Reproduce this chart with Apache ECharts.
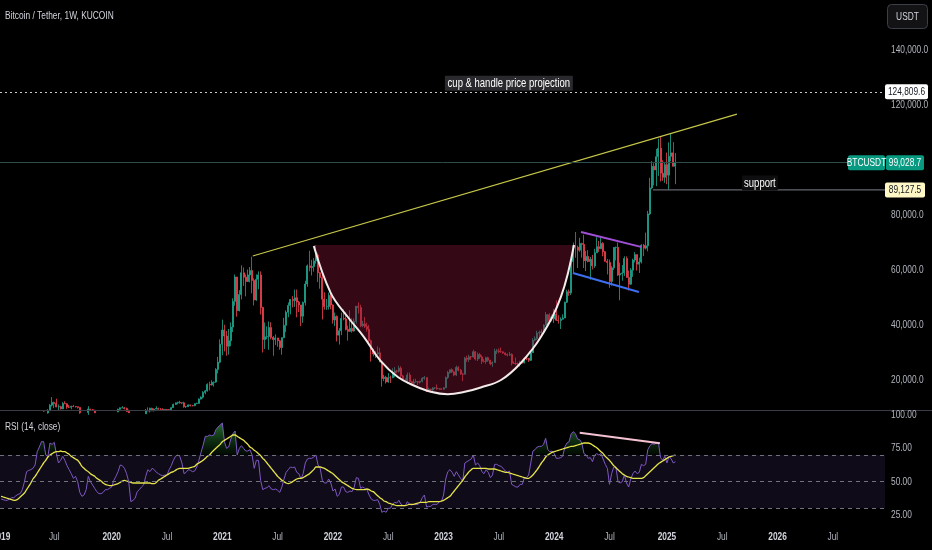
<!DOCTYPE html>
<html><head><meta charset="utf-8">
<script src="https://cdn.jsdelivr.net/npm/echarts@6/dist/echarts.min.js"></script>
<style>html,body{margin:0;padding:0;background:#000;}#c{width:932px;height:550px;}</style>
</head><body><div id="c"></div>
<script>
// ---------- data (prices in thousands of USDT) ----------
const startDate = '2019-01-07';
const weekCount = 416;
const firstOpen = 4.05;
const closes = [
3.55,3.53,3.55,3.43,3.65,3.65,3.83,3.86,3.93,3.99,4.02,4.10,
5.05,5.05,5.30,5.28,5.85,7.25,8.00,8.75,8.70,8.00,8.95,10.85,
11.85,11.45,10.20,10.30,9.50,11.50,11.35,10.20,10.10,10.40,10.35,10.30,
10.00,8.05,7.85,8.30,8.20,9.45,9.20,9.00,8.05,7.20,7.40,7.50,
7.10,7.30,7.35,7.75,
8.20,8.70,8.40,9.35,9.90,9.90,9.65,8.55,8.05,5.35,5.85,5.90,
6.80,6.65,7.15,7.70,8.90,8.70,9.70,8.75,9.45,9.65,9.35,9.30,
9.00,9.30,9.25,9.15,9.95,11.10,11.70,11.90,11.65,11.70,10.30,10.30,
10.95,10.75,10.65,11.40,11.50,13.05,13.75,15.45,16.05,18.40,18.20,19.15,
19.25,23.80,26.50,33.00,
38.15,36.00,32.25,34.30,39.25,48.60,57.45,45.20,51.05,59.00,57.40,55.80,
58.20,59.80,56.20,49.10,56.60,58.20,46.40,34.70,35.70,35.80,39.10,35.50,
34.70,35.30,34.25,31.80,35.40,39.90,44.60,47.10,49.30,48.90,49.90,48.30,
47.30,43.20,48.20,54.90,61.50,60.90,61.30,63.30,65.50,59.00,57.30,49.40,
46.70,46.70,50.80,47.30,
41.85,43.10,36.30,37.90,42.40,42.20,38.40,37.70,38.80,37.80,41.30,46.85,
46.40,39.70,40.40,39.45,38.50,34.30,31.30,29.45,29.45,29.90,26.60,20.55,
21.00,19.30,20.85,20.80,22.60,23.30,23.20,24.30,21.50,20.05,19.80,21.80,
19.40,18.80,19.30,19.40,19.20,19.55,20.60,20.90,16.30,16.70,16.40,17.10,
17.10,16.80,16.85,16.60,
17.15,20.90,22.70,23.75,22.95,21.80,24.60,23.55,22.20,22.10,27.95,27.50,
28.45,28.35,30.30,27.60,29.25,28.40,26.80,26.75,28.10,27.20,25.90,26.35,
30.50,30.60,30.30,30.25,29.85,29.25,29.05,29.30,26.10,26.00,25.85,25.85,
26.50,26.25,27.95,27.90,27.15,29.95,34.50,35.00,37.05,37.35,37.45,39.95,
43.75,41.40,43.00,42.25,
43.95,41.75,41.60,42.10,42.55,48.30,52.10,51.70,63.10,68.90,68.30,67.20,
69.65,69.30,63.40,64.95,63.10,63.90,61.50,66.25,68.50,67.75,69.65,66.65,
63.20,62.70,55.85,60.80,68.20,68.25,58.15,58.70,58.95,64.20,57.30,54.85,
59.95,63.60,65.60,62.10,62.90,69.00,67.95,68.80,80.40,89.85,97.70,96.40,
101.20,104.30,95.20,93.70,98.30,94.50,101.35,102.60,97.70,99.03];
const highs = [
4.10,3.75,3.65,3.60,3.70,3.70,4.20,3.95,3.95,4.05,4.10,4.15,
5.35,5.45,5.45,5.65,5.90,7.50,8.35,8.90,9.10,8.80,9.40,11.25,
13.80,12.10,13.20,11.10,10.65,11.95,12.30,11.55,10.95,10.65,10.95,10.45,
10.30,10.00,8.50,8.80,8.40,10.50,9.50,9.50,9.15,8.20,7.90,7.80,
7.55,7.50,7.60,7.90,
8.45,9.00,8.80,9.60,10.00,10.50,10.25,9.95,9.20,8.10,6.95,6.95,
7.25,7.45,7.30,7.80,9.45,10.05,9.95,9.95,9.60,10.45,9.95,9.80,
9.75,9.35,9.45,9.35,10.10,11.45,11.80,12.10,12.45,11.75,12.10,10.60,
11.15,11.05,10.95,11.50,11.75,13.35,14.05,15.95,16.35,18.80,19.40,19.90,
19.40,24.30,28.40,34.80,
41.95,40.10,37.80,38.55,40.95,49.70,58.35,57.50,52.65,61.70,60.90,58.40,
60.20,61.10,64.85,57.00,58.40,59.50,59.50,46.60,40.90,39.50,41.30,41.00,
36.00,36.60,35.10,34.60,35.50,42.60,45.30,48.20,49.40,50.50,52.90,52.90,
48.80,47.30,48.50,56.10,62.00,67.00,63.70,64.30,69.00,66.30,59.30,59.20,
51.90,49.50,51.80,52.00,
47.50,44.50,43.50,38.90,44.50,45.80,44.75,39.80,45.40,42.50,42.40,46.90,
48.20,47.40,41.50,42.90,40.80,40.00,34.70,31.00,30.60,32.20,31.70,26.90,
21.90,21.55,22.50,21.60,24.30,24.70,23.70,25.20,25.00,21.90,20.60,22.70,
22.70,19.70,20.40,20.45,19.60,19.70,21.00,21.45,21.00,17.20,16.80,17.40,
17.40,18.40,17.05,16.95,
17.40,21.25,23.30,23.80,24.25,23.40,25.25,25.00,24.00,22.60,28.40,28.85,
29.20,28.75,31.00,30.50,30.00,29.85,29.00,27.65,28.45,28.45,27.30,26.80,
31.40,31.30,31.50,31.80,30.40,30.00,29.70,30.25,29.70,26.80,28.15,26.40,
27.00,27.45,28.00,28.60,28.00,30.20,35.20,35.90,37.95,37.95,38.40,40.25,
44.70,44.00,44.30,43.80,
45.90,48.95,43.55,42.80,43.85,48.50,52.80,52.90,64.00,70.00,73.80,68.90,
71.70,69.90,72.80,66.90,67.20,64.75,65.50,67.70,71.95,70.60,71.95,70.15,
66.95,64.00,63.80,61.40,68.35,68.50,70.00,62.70,61.80,65.00,64.95,59.80,
60.65,64.10,66.50,65.60,64.50,69.40,69.50,73.60,81.50,93.50,99.60,98.80,
104.00,107.80,108.35,99.90,98.90,102.70,106.40,109.60,106.50,102.50];
const lows = [
3.50,3.50,3.45,3.35,3.36,3.55,3.64,3.70,3.70,3.80,3.90,3.90,
4.10,4.95,5.00,5.10,5.25,5.75,6.90,7.50,8.50,7.45,7.80,8.95,
10.35,9.80,10.10,9.10,9.30,9.50,11.25,9.50,9.80,9.35,10.20,9.95,
9.60,7.70,7.70,7.80,7.90,7.30,8.95,8.70,8.00,6.80,6.50,7.30,
6.90,6.45,7.10,6.90,
7.70,8.15,8.25,8.30,9.10,9.75,9.30,8.45,8.00,3.85,4.45,5.70,
5.85,6.55,6.50,6.80,7.65,8.60,8.20,8.70,8.65,9.30,9.25,9.20,
8.95,8.90,9.10,9.00,9.10,9.90,10.95,11.15,11.40,11.25,9.90,9.85,
10.20,10.35,10.40,10.50,11.20,11.40,12.90,13.25,14.80,15.75,16.20,18.00,
17.60,19.00,22.40,26.10,
29.00,30.40,28.80,29.20,32.30,37.40,47.00,43.00,44.95,49.30,54.20,50.40,
55.70,55.50,51.50,47.10,48.80,53.00,43.80,30.00,31.30,34.80,31.00,34.80,
28.80,32.70,32.10,31.00,29.20,35.20,37.40,42.80,43.90,46.40,46.60,42.80,
44.70,39.60,40.80,47.10,53.90,59.50,58.00,59.40,62.30,55.60,53.20,42.00,
45.60,45.50,45.60,45.70,
40.50,39.60,34.00,32.90,36.30,41.70,38.00,34.30,37.50,37.20,37.60,40.50,
44.20,39.20,39.20,38.90,37.60,33.70,26.70,28.60,28.00,29.20,26.50,17.60,
19.60,18.70,19.00,18.90,20.70,21.00,22.40,22.70,20.80,19.80,19.60,18.60,
19.30,18.15,18.50,19.10,18.20,18.70,19.10,20.05,15.60,15.80,15.50,16.00,
16.75,16.50,16.50,16.35,
16.55,17.10,20.40,22.30,22.50,21.40,21.50,23.10,21.90,19.60,22.00,26.60,
26.50,27.30,28.20,27.10,26.90,27.70,25.80,26.35,25.90,26.60,25.35,24.80,
26.25,29.50,29.70,29.95,29.50,28.90,28.60,28.70,25.30,25.80,25.40,25.40,
24.90,26.00,26.00,27.20,26.55,26.90,29.90,34.10,34.55,34.80,35.65,36.85,
39.95,40.20,40.55,41.30,
40.75,41.50,40.50,38.55,41.90,42.55,48.00,50.60,50.90,59.00,64.50,60.70,
66.60,64.50,60.70,59.60,62.80,56.50,60.20,60.75,66.30,66.60,67.60,65.00,
63.00,58.40,53.50,54.30,60.00,63.50,57.80,49.00,56.10,57.80,57.20,52.55,
54.60,57.50,62.70,59.80,58.90,62.40,65.05,67.45,66.80,80.00,89.40,90.80,
90.50,94.20,92.20,92.40,91.70,91.20,89.25,99.50,97.70,91.20];
const rsi = [
37,36.5,36,36,37,38,38,39.5,40.5,41,44,50,
57.5,58.5,59,60,62.5,72.5,76,80,80,70,69,79,
78,79.5,71,64,66,69,66,62,59,56,52.5,54,
50,42,39,40,44,54,50,47.5,45,42.5,41,41,
42,44,44,45,
46,51,54,57.5,62.5,62,60,56,50,35,36,37.5,
42.5,44,46,47.5,54,59,57.5,60,59,57,56,55,
54.5,55,55,59,62,66,69,70,69,64,56,57,
59,58.5,57.5,58,61,66,72,77.5,84,84,85,84.5,
85,89,91,92.5,
94,80,75,76,82,86,88,70,75,77,75,73,
73,74,70,60,66,66,51,44,45,45.5,47,44.5,
44,44.5,43.5,42,46,52,57,59,61,60.5,61,57,
56,52,56,64,67,67.5,67.5,68.5,70,62.5,60,51,
49,49,52,49,
43,44.5,39,40.5,46,46,42.5,42,43,42.5,46,53,
52.5,45,46,45,44,40,37,36,36,36.5,33,27,
28,27,30,30,33,34.5,34,36,33,32,32,35,
33,32.5,33,33,33,34.5,38,40,31,31.5,31.5,33,
33,33,35,35,
40,52,57.5,59,57,54,57.5,55,52.5,50,64,65,
66,67,70,62.5,64,62,57.5,56,59,57,53,55,
63,63,62,61.5,60,58,57,58,48,47,46,46,
48,48,53,53,55,64,73,74,76,76.5,76.5,78,
82.5,74,72.5,73,
71,67.5,67.5,68,69,76,79,80,86,87.5,86,82,
81.5,79,71,70,67.5,68,65,70,71,70,71,67,
63,60,48,56,61,61,50,49,50,55,49,46,
52,56,58,56,57,63,62,63,74,77,78.5,78,
79,79.5,68,66,69,64,69,67,64,65];
const rsiMA = [
39,38.5,38,37.5,37,36.5,36,36.2,37,38.5,40,41.5,
44,46.5,49,52,54,56.5,59,61.5,64,66,68.5,70,
71,72,72.5,72.5,73,72.5,72.5,71.5,70.5,69,68,67,
66,64,61.5,60,58.5,57.5,56,55,54,52.5,51.5,50.5,
49,48,47.5,47,
47,47.5,48,48.5,49.5,50.5,51,50.5,50,49.5,49,49,
49,49,49,49,49,49,49,48.5,48.5,49.5,51,52,
53,54,55,56,57,57.5,58.5,59.5,60,60,60,60,
60,60.5,61,61.5,63,64,65,66,67.5,69,70,72,
73.5,75,76.5,78,
80,81,82,83,84,85,85,84,83,82,81,79.5,
78,76,75,73.5,72.5,71,69.5,67.5,66,64,62,60,
58,56,54,52.5,51,50,49,48.5,49,50,51,52,
52.5,52.5,53,54,55,56,57.5,59,61,61,61,60.5,
60,59,58,57,
56,54.5,53,51.5,50,49,48,47,46,45,44.5,44,
44,44,44,44,44.5,44,43,42.5,41,39.5,38,37,
35.5,35,34,33.5,33,32.5,32,32,32,32,32,32.5,
33,33,33,33.5,34,34.5,34.5,34.5,34.5,35,35,35,
35,35,35,35.5,
36,37,38,39,41,43,45,47,49,51,53.5,55.5,
57.5,59,60,60,60,60,60,60,60,59.5,59.5,59.5,
59.5,59,58.5,58,57.5,57,57,56.5,56,55.5,55,54.5,
54,53.5,53,52.5,52.5,53.5,55,57,59,61.5,64,66,
68.5,70,71,72,
72.5,73,73.5,74,74.5,75,75.5,76,76.5,76.5,77,77.5,
78,78.5,79,79,79,78.5,77.5,76.5,75.5,74,72.5,71,
69,67.5,66,64,62,60.5,59,57.5,56,55,54,53.5,
53,52.5,52.5,52.5,52.5,52.5,53,54.5,56,57.5,59,60.5,
62,63.5,64.5,65.5,66.5,67.5,68.5,69,69.5,70];
const priceTicks = [20, 40, 60, 80, 120, 140];
const rsiTicks = [25, 50, 75, 100];
const rsiBands = [70, 50, 30];
const projectionLevel = 124.8096;
const lastPrice = 99.0287;
const supportLevel = 89.1275;
// drawings: [week index, price]
const trendLine = [[118.3, 65.1], [345.9, 116.7]];
const cupTop = 69.1;
const cupCurve = [[147.0,68.7],[155.0,51.6],[162.9,43.0],[170.5,35.7],[178.5,26.9],[186.5,21.1],[194.0,18.0],[202.0,15.7],[210.0,14.8],[217.5,15.6],[225.5,17.3],[235.0,20.0],[244.3,26.2],[253.8,35.7],[263.2,50.3],[269.3,69.1]];
const handleUpper = [[272.6, 73.8], [300.8, 68.4]];
const handleLower = [[268.8, 58.9], [299.8, 52.0]];
const supportStart = 306.4;
const rsiDivergence = [[272.0, 86.7], [309.7, 78.8]];
const cupLabelAt = [238.7, 127.9];
const supportLabelAt = [356.7, 91.6];

// ---------- build ----------
const FONT = "'Liberation Sans',Arial,sans-serif";
const SX = 0.76; // condensed look of the reference lettering
const cats = [];
const t0 = Date.parse(startDate + 'T00:00:00Z');
for (let k = 0; k < weekCount; k++) cats.push(new Date(t0 + k * 7 * 86400000).toISOString().slice(0, 10));
const candles = closes.map((c, i) => {
  const o = i === 0 ? firstOpen : closes[i - 1];
  return [o, c, Math.min(lows[i], o, c), Math.max(highs[i], o, c)];
});
const fmtPrice = v => (v * 1000).toLocaleString('en-US', {minimumFractionDigits: 1, maximumFractionDigits: 1});
const XMAX = weekCount - 0.5;
const UP = '#1ea68f', DN = '#f0414f';
const TAG = '#089981';

const chart = echarts.init(document.getElementById('c'), null, {renderer: 'canvas', width: 932, height: 550});
const option = {
  backgroundColor: '#000000',
  animation: false,
  textStyle: {fontFamily: FONT},
  grid: [
    {left: 0, top: 0, width: 885, height: 410, containLabel: false, outerBoundsMode: 'none'},
    {left: 0, top: 410, width: 885, height: 117, containLabel: false, outerBoundsMode: 'none'}
  ],
  xAxis: [
    {type: 'category', gridIndex: 0, data: cats, boundaryGap: true, show: false},
    {type: 'category', gridIndex: 1, data: cats, boundaryGap: true,
     axisLine: {show: false}, axisTick: {show: false}, splitLine: {show: false}, axisLabel: {show: false}},
    {type: 'value', gridIndex: 0, min: -0.5, max: XMAX, show: false},
    {type: 'value', gridIndex: 1, min: -0.5, max: XMAX, show: false}
  ],
  yAxis: [
    {type: 'value', gridIndex: 0, position: 'right', min: 435 / 2.75 - 410 / 2.75, max: 435 / 2.75, scale: true,
     axisLine: {show: false}, axisTick: {show: false}, splitLine: {show: false}, axisLabel: {show: false}},
    {type: 'value', gridIndex: 1, position: 'right', min: 16, max: 103.75, scale: true,
     axisLine: {show: false}, axisTick: {show: false}, splitLine: {show: false}, axisLabel: {show: false}}
  ],
  series: [
    {type: 'candlestick', xAxisIndex: 0, yAxisIndex: 0, data: candles, barWidth: 1.5, clip: true,
     itemStyle: {color: UP, color0: DN, borderColor: UP, borderColor0: DN, borderWidth: 0.8},
     markLine: {silent: true, symbol: 'none', label: {show: false}, animation: false,
       data: [
         {yAxis: projectionLevel, lineStyle: {color: '#c8c8c8', type: [2, 3], width: 1}},
         {yAxis: lastPrice, lineStyle: {color: '#2f4d48', type: 'solid', width: 1}}
       ]}},
    {type: 'line', name: 'cup', xAxisIndex: 2, yAxisIndex: 0, data: cupCurve, smooth: 0.4, symbol: 'none',
     lineStyle: {color: '#f3eaea', width: 2}, areaStyle: {origin: cupTop, color: 'rgba(125,18,48,0.42)', opacity: 1}, z: 3},
    {type: 'line', xAxisIndex: 2, yAxisIndex: 0, data: trendLine, symbol: 'none', lineStyle: {color: '#c6c64a', width: 1.2}, z: 4},
    {type: 'line', xAxisIndex: 2, yAxisIndex: 0, data: handleUpper, symbol: 'none', lineStyle: {color: '#a24fd8', width: 2}, z: 4},
    {type: 'line', xAxisIndex: 2, yAxisIndex: 0, data: handleLower, symbol: 'none', lineStyle: {color: '#3d6ff0', width: 2}, z: 4},
    {type: 'line', xAxisIndex: 2, yAxisIndex: 0, data: [[supportStart, supportLevel], [XMAX, supportLevel]], symbol: 'none', lineStyle: {color: '#7c7f88', width: 1}, z: 4},
    {type: 'line', id: 'rsiFill', xAxisIndex: 1, yAxisIndex: 1, data: rsi, symbol: 'none', lineStyle: {opacity: 0},
     areaStyle: {origin: 70, color: 'rgba(0,0,0,0)'}, z: 2, silent: true,
     markArea: {silent: true, itemStyle: {color: 'rgba(126,87,194,0.12)'}, data: [[{yAxis: 30}, {yAxis: 70}]]},
     markLine: {silent: true, symbol: 'none', label: {show: false}, animation: false,
       lineStyle: {color: '#6f727c', type: [4, 4], width: 1}, data: rsiBands.map(v => ({yAxis: v}))}},
    {type: 'line', xAxisIndex: 1, yAxisIndex: 1, data: rsi, symbol: 'none', lineStyle: {color: '#7e57c2', width: 1}, z: 3},
    {type: 'line', xAxisIndex: 1, yAxisIndex: 1, data: rsiMA, symbol: 'none', smooth: 0.3, lineStyle: {color: '#e6e34c', width: 1.3}, z: 4},
    {type: 'line', xAxisIndex: 3, yAxisIndex: 1, data: rsiDivergence, symbol: 'none', lineStyle: {color: '#f4c2d2', width: 2}, z: 5}
  ]
};
chart.setOption(option);

const py = v => chart.convertToPixel({yAxisIndex: 0}, v);
const ry = v => chart.convertToPixel({yAxisIndex: 1}, v);
const cx = c => chart.convertToPixel({xAxisIndex: 1}, c);
const pxy = p => chart.convertToPixel({xAxisIndex: 2, yAxisIndex: 0}, p);
const T = (x, y, text, fill, align, bold, size) => ({type: 'text', z: 100, silent: true, x, y, scaleX: SX,
  style: {x: 0, y: 0, text, fill, font: (bold ? 'bold ' : '') + (size || 11) + 'px ' + FONT, align: align || 'left', verticalAlign: 'middle'}});
const box = (x, y, w, h, fill, r, stroke) => ({type: 'rect', z: 99, silent: true, shape: {x, y, width: w, height: h, r: r || 0},
  style: {fill, stroke: stroke || null, lineWidth: stroke ? 1 : 0}});

const yProj = py(projectionLevel), yLast = py(lastPrice), ySup = py(supportLevel);
const cupP = pxy(cupLabelAt), supP = pxy(supportLabelAt);
const graphic = [
  {type: 'line', z: 90, silent: true, shape: {x1: 0, y1: 410.5, x2: 932, y2: 410.5}, style: {stroke: '#3a3d45', lineWidth: 1}},
  T(5, 16, 'Bitcoin / Tether, 1W, KUCOIN', '#d1d4dc'),
  T(5, 427, 'RSI (14, close)', '#d1d4dc'),
  box(887.5, 4.5, 40, 24, '#131315', 4, '#3c3f48'),
  T(907.5, 16.5, 'USDT', '#d1d4dc', 'center')
];
priceTicks.forEach(v => graphic.push(T(891, py(v), fmtPrice(v), '#b2b5be')));
rsiTicks.forEach(v => graphic.push(T(891, ry(v), v.toFixed(2), '#b2b5be')));
cats.forEach(c => {
  const m = c.slice(5, 7), d = +c.slice(8, 10);
  if ((m === '01' || m === '07') && d <= 7) {
    const isYear = m === '01';
    graphic.push(T(cx(c), 537, isYear ? c.slice(0, 4) : 'Jul', isYear ? '#d1d4dc' : '#b2b5be', 'center', isYear));
  }
});
graphic.push(
  box(885, yProj - 7.5, 43, 15, '#ffffff', 2),
  T(906.5, yProj, fmtPrice(projectionLevel), '#131722', 'center'),
  box(848, yLast - 7.5, 37, 15, TAG, 2),
  T(866.5, yLast, 'BTCUSDT', '#ffffff', 'center'),
  box(886, yLast - 7.5, 38, 15, TAG, 2),
  T(905, yLast, fmtPrice(lastPrice), '#ffffff', 'center'),
  box(885, ySup - 7.5, 40, 15, '#fff8c6', 2),
  T(905, ySup, fmtPrice(supportLevel), '#131722', 'center'),
  box(cupP[0] - 64, cupP[1] - 7.5, 128, 15, '#2a2a2e', 1),
  T(cupP[0], cupP[1], 'cup & handle price projection', '#ffffff', 'center', false, 12.5),
  box(supP[0] - 18, supP[1] - 7.5, 36, 15, '#0e0e10', 1),
  T(supP[0], supP[1], 'support', '#ffffff', 'center', false, 12.5)
);
const g100 = ry(100), g70 = ry(70);
chart.setOption({
  series: [{id: 'rsiFill', areaStyle: {origin: 70, color: {type: 'linear', global: true, x: 0, y: g100, x2: 0, y2: g70,
    colorStops: [{offset: 0, color: 'rgba(76,210,90,1)'}, {offset: 0.97, color: 'rgba(30,120,40,0.15)'}, {offset: 1, color: 'rgba(30,120,40,0)'}]}}}],
  graphic: graphic
});
</script></body></html>
